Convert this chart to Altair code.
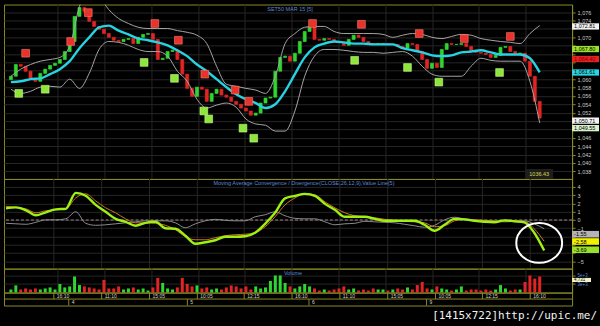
import altair as alt
import pandas as pd

# ---------------- data ----------------
close = [1060.7, 1063.5, 1063.1, 1061.9, 1060.0, 1059.5, 1061.4, 1062.4, 1063.3, 1063.8,
         1064.7, 1066.6, 1069.0, 1075.0, 1077.1, 1076.2, 1073.8, 1072.6, 1071.9, 1070.9,
         1070.0, 1069.3, 1069.0, 1069.5, 1069.7, 1068.5, 1070.0, 1070.7, 1070.9, 1069.5,
         1064.7, 1065.0, 1066.6, 1066.9, 1064.7, 1061.2, 1057.8, 1055.9, 1058.1, 1057.6,
         1054.7, 1056.6, 1057.6, 1056.2, 1055.7, 1054.7, 1054.0, 1053.1, 1052.4, 1051.4,
         1051.9, 1054.3, 1055.5, 1055.7, 1061.9, 1065.2, 1065.5, 1064.3, 1066.2, 1069.0,
         1071.4, 1072.6, 1069.5, 1069.3, 1069.7, 1069.5, 1069.0, 1068.8, 1068.1, 1069.5,
         1070.5, 1070.0, 1069.0, 1068.5, 1068.3, 1068.5, 1068.5, 1068.3, 1068.3, 1067.8,
         1067.4, 1068.5, 1068.3, 1066.6, 1064.7, 1062.6, 1063.8, 1062.8, 1067.1, 1068.5,
         1068.3, 1068.3, 1068.5, 1067.8, 1066.9, 1066.4, 1066.2, 1065.9, 1065.2, 1065.7,
         1067.6, 1067.8, 1066.6, 1066.2, 1066.2, 1064.3, 1060.7, 1054.7, 1050.71]
first_open = 1059.9

sma = [1059.3, 1059.5, 1060.0, 1060.2, 1061.2, 1062.4, 1064.3, 1067.4, 1070.0, 1072.4,
       1072.8, 1071.6, 1070.7, 1069.7, 1069.3, 1068.8, 1068.1, 1066.9, 1065.5, 1063.5,
       1061.9, 1060.0, 1058.1, 1056.4, 1055.2, 1054.3, 1053.1, 1054.0, 1057.1, 1061.2,
       1065.2, 1067.6, 1068.5, 1069.0, 1068.8, 1068.5, 1068.5, 1068.3, 1068.3, 1068.3,
       1067.4, 1066.9, 1066.4, 1065.7, 1065.5, 1065.7, 1066.4, 1066.6, 1066.9, 1066.4,
       1065.9, 1065.9, 1065.9, 1065.0, 1061.61]
bb_upper = [1060.7, 1062.4, 1063.5, 1064.3, 1064.7, 1065.2, 1067.8, 1077.4, 1081.4, 1079.7,
            1076.6, 1074.5, 1073.3, 1072.4, 1072.1, 1072.1, 1072.1, 1071.6, 1071.2, 1070.5,
            1068.5, 1063.1, 1058.8, 1058.3, 1057.8, 1057.4, 1056.6, 1060.7, 1068.5, 1070.9,
            1072.4, 1072.6, 1072.6, 1071.4, 1070.9, 1070.9, 1070.9, 1070.9, 1070.7, 1070.0,
            1070.5, 1070.9, 1070.7, 1070.0, 1069.7, 1070.2, 1070.7, 1070.5, 1069.7, 1069.3,
            1069.0, 1068.8, 1068.5, 1070.9, 1072.81]
bb_lower = [1057.6, 1056.6, 1057.1, 1058.1, 1058.3, 1058.1, 1060.0, 1057.8, 1061.4, 1067.1,
            1069.0, 1068.8, 1068.1, 1067.1, 1066.6, 1066.6, 1065.5, 1061.9, 1059.5, 1055.2,
            1053.1, 1053.8, 1054.3, 1053.3, 1050.5, 1049.3, 1049.0, 1047.6, 1047.6, 1052.4,
            1060.7, 1065.5, 1067.1, 1067.1, 1066.9, 1066.6, 1066.4, 1066.4, 1066.2, 1066.4,
            1066.6, 1065.5, 1063.1, 1061.2, 1060.7, 1060.7, 1060.7, 1063.1, 1065.0, 1064.5,
            1064.3, 1064.3, 1064.3, 1059.5, 1049.55]

macd_line = [1.41, 1.53, 1.17, 0.57, 0.93, 1.29, 1.35, 3.28, 2.92, 1.83,
             0.99, 0.14, -0.22, -0.70, -0.34, -0.22, -1.00, -1.06, -1.90, -2.87,
             -2.69, -2.45, -2.02, -2.02, -1.96, -1.54, -0.46, 0.87, 2.61, 2.92,
             3.16, 2.92, 1.95, 1.23, 0.39, 0.39, 0.39, 0.14, -0.10, -0.10,
             -0.10, -0.10, -0.58, -1.30, -0.58, 0.14, 0.08, -0.10, -0.22, -0.28,
             -0.04, -0.16, -0.28, -1.54, -3.69]
signal_line = [1.65, 1.53, 1.35, 0.87, 1.11, 1.23, 1.35, 2.67, 3.16, 2.31,
               1.47, 0.87, 0.14, -0.34, -0.34, -0.40, -0.64, -1.18, -2.02, -2.39,
               -2.39, -2.14, -1.90, -1.78, -1.72, -1.54, -0.82, 0.39, 1.83, 2.67,
               3.16, 3.04, 2.19, 1.47, 0.87, 0.51, 0.39, 0.27, 0.08, -0.04,
               -0.16, -0.22, -0.34, -0.82, -0.70, -0.10, 0.08, 0.02, -0.04, -0.10,
               -0.10, -0.10, -0.16, -1.06, -2.58]
hist_line = [-0.40, -0.46, -0.52, -0.28, 0.02, 0.02, 0.14, 0.99, -0.40, -0.64,
             -0.58, -0.46, -0.34, -0.22, -0.10, -0.10, -0.10, -0.34, -0.94, -0.46,
             -0.10, 0.08, -0.04, -0.10, -0.10, 0.39, 0.63, 0.99, 0.51, 0.20,
             0.14, 0.14, -0.22, -0.58, -0.46, -0.40, -0.16, -0.22, -0.28, -0.34,
             -0.52, -0.70, -0.88, -0.64, 0.02, 0.33, 0.14, 0.02, -0.10, -0.16,
             -0.22, -0.16, -0.10, -0.46, -1.06]

volume = [900, 2100, 900, 1200, 900, 1200, 900, 1200, 1500, 900,
          2500, 1500, 1800, 4700, 2200, 1800, 1500, 1200, 900, 3700,
          1200, 1200, 1800, 900, 1200, 1500, 900, 1200, 600, 1500,
          4300, 2800, 1200, 900, 1500, 4300, 2500, 1800, 2100, 1200,
          1500, 900, 1200, 900, 1500, 2100, 1800, 1200, 1800, 900,
          1800, 1200, 1500, 3400, 5000, 5000, 2800, 1800, 1200, 1800,
          2500, 1800, 1200, 600, 900, 600, 900, 1200, 1800, 900,
          1200, 600, 900, 600, 1200, 900, 900, 600, 900, 1200,
          900, 1500, 900, 2200, 3100, 1200, 900, 1800, 1200, 900,
          600, 900, 1800, 600, 900, 900, 600, 900, 600, 900,
          2200, 1200, 600, 900, 900, 3100, 5000, 4100, 4700]

sell_i = [3, 12.2, 15.8, 29.4, 34.2, 39.6, 45.8, 48.6, 61.6, 71.6, 83.4, 92.6, 102]
sell_p = [1066.2, 1069.0, 1075.9, 1073.3, 1069.3, 1061.2, 1057.4, 1054.7, 1073.3, 1073.1, 1070.9, 1069.7, 1070.2]
buy_i = [1.6, 7, 27.2, 33.4, 39.4, 40.4, 47.4, 49.6, 70.2, 81, 87.4, 99.8]
buy_p = [1056.6, 1057.6, 1064.0, 1060.2, 1052.4, 1050.5, 1048.3, 1045.9, 1064.5, 1062.8, 1059.3, 1061.6]

grid_i = [9.6, 19.2, 28.8, 38.4, 47.8, 57.4, 67.0, 76.6, 86.2, 95.6, 105.2]
time_labels = ["16:10", "11:10", "15:05", "10:05", "12:15", "16:10",
               "11:10", "15:05", "10:05", "12:15", "16:10"]
day_i = [12.6, 36.4, 60.8, 84.4]
day_labels = ["4", "5", "6", "9"]

price_ticks = list(range(1038, 1077, 2))
price_hidden = [1072, 1068, 1066, 1064, 1062, 1050, 1048]
macd_ticks = list(range(-5, 5))
macd_hidden = [-2, -3, -4]
vol_ticks = [2500, 5000]

# last-value tags on the right axis: shown value and where the tag sits
price_tags = [1072.81, 1067.80, 1064.40, 1061.61, 1050.71, 1049.55]
price_tag_at = [1072.6, 1067.2, 1064.8, 1061.6, 1050.1, 1048.3]
price_tag_bg = ["#f2f2f2", "#9be02c", "#e52222", "#2bd4e0", "#f2f2f2", "#d9f2cc"]
price_tag_fg = ["#000000", "#000000", "#7a0000", "#000000", "#000000", "#000000"]
macd_tags = [-1.55, -2.58, -3.69]
macd_tag_at = [-1.72, -2.6, -3.6]
macd_tag_bg = ["#b4b4b4", "#f0f000", "#9be02c"]
vol_tags = [4731]
vol_tag_at = [3700]
vol_tag_bg = ["#f2f2c8"]

circle_i = [107]
circle_v = [-2.77]

title_price = "SET50 MAR 15   [5]"
title_macd = "Moving Average Convergence / Divergence(CLOSE,26,12,9),Value Line(5)"
title_vol = "Volume"
low_note = "1036.43"
watermark = "[1415x722]http://upic.me/"

# ---------------- tables ----------------
n = len(close)
cdf = pd.DataFrame({"i": list(range(n)), "open": [first_open] + close[:-1],
                    "close": close, "volume": volume})
cdf["dir"] = ["up" if c >= o else "down" for o, c in zip(cdf["open"], cdf["close"])]

li = list(range(0, n, 2))
ldf = pd.DataFrame({"i": li, "sma": sma, "upper": bb_upper, "lower": bb_lower,
                    "macd": macd_line, "signal": signal_line, "hist": hist_line})

FONT = "Liberation Sans"
BORDER = "#8a8a26"
GRID = "#262626"
BLUE = "#5b88d6"
W = 570

XS = alt.Scale(domain=[-0.4, 113.6], nice=False, zero=False)
PY = alt.Scale(domain=[1036.17, 1077.83], nice=False, zero=False)
MY = alt.Scale(domain=[-5.88, 4.96], nice=False, zero=False)
VY = alt.Scale(domain=[0, 7000], nice=False, zero=False)
SY = alt.Scale(domain=[0, 2], nice=False, zero=False)
dir_scale = alt.Scale(domain=["up", "down"], range=["#2fd62f", "#e22424"])


def xq(field):
    return alt.X(field, type="quantitative", scale=XS, axis=None)


def right_axis(values, fmt, hidden, color="#c8c8c8", size=5.5):
    expr = "indexof(%s, datum.value) >= 0 ? '' : datum.label" % str(hidden)
    return alt.Axis(orient="right", values=values, format=fmt, labelColor=color,
                    labelFont=FONT, labelFontSize=size, labelPadding=2,
                    tickColor=BORDER, tickSize=3, domainColor=BORDER,
                    grid=True, gridColor=GRID, gridWidth=1, title=None,
                    labelOverlap=False, labelExpr=expr)


PAX = right_axis(price_ticks, ",", price_hidden)
MAX = right_axis(macd_ticks, "d", macd_hidden)
VAX = right_axis(vol_ticks, ",", [], BLUE, 4.5)


def py(field):
    return alt.Y(field, type="quantitative", scale=PY, axis=PAX)


def my(field):
    return alt.Y(field, type="quantitative", scale=MY, axis=MAX)


def vy(field):
    return alt.Y(field, type="quantitative", scale=VY, axis=VAX)


gdf = pd.DataFrame({"g": grid_i})
vgrid = alt.Chart(gdf).mark_rule(color=GRID, strokeWidth=1).encode(x=xq("g"))

# ---------------- price panel ----------------
candles = alt.Chart(cdf).mark_bar(width=3, strokeWidth=0.7).encode(
    x=xq("i"), y=py("open"), y2="close:Q",
    color=alt.Color("dir:N", scale=dir_scale, legend=None),
    stroke=alt.Stroke("dir:N", scale=dir_scale, legend=None),
)


def pline(field, color, width):
    return alt.Chart(ldf).mark_line(color=color, strokeWidth=width, clip=True,
                                    interpolate="monotone").encode(x=xq("i"), y=py(field))


sdf = pd.DataFrame({"i": sell_i, "p": sell_p})
bdf = pd.DataFrame({"i": buy_i, "p": buy_p})
sells = alt.Chart(sdf).mark_square(size=60, color="#e8332c", opacity=1,
                                   stroke="#ff7a6e", strokeWidth=0.6).encode(x=xq("i"), y=py("p"))
buys = alt.Chart(bdf).mark_square(size=60, color="#8fe63a", opacity=1,
                                  stroke="#c8ff90", strokeWidth=0.6).encode(x=xq("i"), y=py("p"))

ptitle = alt.Chart(pd.DataFrame({"t": [title_price]})).mark_text(
    font=FONT, fontSize=5.5, color=BLUE, align="center", baseline="middle").encode(
    x=alt.value(287), y=alt.value(4), text="t:N")
lownote_bg = alt.Chart(pd.DataFrame({"t": [low_note]})).mark_rect(color="#1e1e1e").encode(
    x=alt.value(523), x2=alt.value(551), y=alt.value(165), y2=alt.value(175))
lownote = alt.Chart(pd.DataFrame({"t": [low_note]})).mark_text(
    font=FONT, fontSize=5.5, color="#d6d64a", align="center", baseline="middle").encode(
    x=alt.value(537), y=alt.value(170), text="t:N")

ptdf = pd.DataFrame({"v": price_tags, "at": price_tag_at, "bg": price_tag_bg, "fg": price_tag_fg})
ptdf["lo"] = ptdf["at"] - 0.75
ptdf["hi"] = ptdf["at"] + 0.75
ptdf["label"] = [f"{v:,.2f}" for v in price_tags]
ptag_box = alt.Chart(ptdf).mark_bar().encode(
    x=alt.value(570), x2=alt.value(597), y=py("lo"), y2="hi:Q",
    color=alt.Color("bg:N", scale=None))
ptag_txt = alt.Chart(ptdf).mark_text(font=FONT, fontSize=5.5, align="left",
                                     baseline="middle").encode(
    x=alt.value(572), y=py("at"), text="label:N", color=alt.Color("fg:N", scale=None))

price = alt.layer(
    vgrid, candles, pline("upper", "#a6a6a6", 1), pline("lower", "#a6a6a6", 1),
    pline("sma", "#27d3e2", 2.4), sells, buys, ptitle, lownote_bg, lownote,
    ptag_box, ptag_txt,
).properties(width=W, height=175)

# ---------------- MACD panel ----------------
zero = alt.Chart(pd.DataFrame({"z": [0]})).mark_rule(
    color="#a08484", strokeWidth=1, strokeDash=[3, 2]).encode(y=my("z"))


def mline(field, color, width):
    return alt.Chart(ldf).mark_line(color=color, strokeWidth=width, clip=True,
                                    interpolate="monotone").encode(x=xq("i"), y=my(field))


mtitle = alt.Chart(pd.DataFrame({"t": [title_macd]})).mark_text(
    font=FONT, fontSize=5.5, color=BLUE, align="center", baseline="middle").encode(
    x=alt.value(301), y=alt.value(4), text="t:N")

ell = "M-1.15,0A1.15,1,0,1,1,1.15,0A1.15,1,0,1,1,-1.15,0Z"
circ = alt.Chart(pd.DataFrame({"i": circle_i, "v": circle_v})).mark_point(
    shape=ell, size=1600, filled=False, color="white", strokeWidth=2, opacity=1).encode(
    x=xq("i"), y=my("v"))

mtdf = pd.DataFrame({"v": macd_tags, "at": macd_tag_at, "bg": macd_tag_bg})
mtdf["lo"] = mtdf["at"] - 0.4
mtdf["hi"] = mtdf["at"] + 0.4
mtdf["label"] = [f"{v:.2f}" for v in macd_tags]
mtag_box = alt.Chart(mtdf).mark_bar().encode(
    x=alt.value(570), x2=alt.value(597), y=my("lo"), y2="hi:Q",
    color=alt.Color("bg:N", scale=None))
mtag_txt = alt.Chart(mtdf).mark_text(font=FONT, fontSize=5.5, align="left",
                                     baseline="middle", color="#000000").encode(
    x=alt.value(572), y=my("at"), text="label:N")

macd = alt.layer(
    vgrid, zero, mline("hist", "#8c8c8c", 1), mline("signal", "#c87a20", 1),
    mline("macd", "#9ff012", 2.4), mtitle, circ, mtag_box, mtag_txt,
).properties(width=W, height=90)

# ---------------- volume panel ----------------
vbars = alt.Chart(cdf).mark_bar(width=3).encode(
    x=xq("i"), y=vy("volume"),
    color=alt.Color("dir:N", scale=dir_scale, legend=None))
vtitle = alt.Chart(pd.DataFrame({"t": [title_vol]})).mark_text(
    font=FONT, fontSize=5.5, color=BLUE, align="center", baseline="middle").encode(
    x=alt.value(290), y=alt.value(4), text="t:N")
vtdf = pd.DataFrame({"v": vol_tags, "at": vol_tag_at, "bg": vol_tag_bg})
vtdf["lo"] = vtdf["at"] - 600
vtdf["hi"] = vtdf["at"] + 600
vtdf["label"] = [f"{v:,}" for v in vol_tags]
vtag_box = alt.Chart(vtdf).mark_bar().encode(
    x=alt.value(570), x2=alt.value(589), y=vy("lo"), y2="hi:Q",
    color=alt.Color("bg:N", scale=None))
vtag_txt = alt.Chart(vtdf).mark_text(font=FONT, fontSize=4.5, align="left",
                                     baseline="middle", color="#000000").encode(
    x=alt.value(572), y=vy("at"), text="label:N")

vol = alt.layer(vgrid, vbars, vtitle, vtag_box, vtag_txt).properties(width=W, height=24)

# ---------------- time strip ----------------
tdf = pd.DataFrame({"g": grid_i, "label": time_labels, "y0": 1, "y1": 2, "ym": 1.5})
ddf = pd.DataFrame({"g": day_i, "label": day_labels, "y0": 0, "y1": 1, "ym": 0.5})
mid = alt.Chart(pd.DataFrame({"y": [1]})).mark_rule(color=BORDER).encode(
    y=alt.Y("y:Q", scale=SY, axis=None))


def strip_layers(df):
    div = alt.Chart(df).mark_rule(color=BORDER).encode(
        x=xq("g"), y=alt.Y("y0:Q", scale=SY, axis=None), y2="y1:Q")
    txt = alt.Chart(df).mark_text(font=FONT, fontSize=5, color="#d0d0d0",
                                  align="left", baseline="middle", dx=3).encode(
        x=xq("g"), y=alt.Y("ym:Q", scale=SY, axis=None), text="label:N")
    return [div, txt]


strip = alt.layer(mid, *strip_layers(tdf), *strip_layers(ddf)).properties(width=W, height=13)

wm = alt.Chart(pd.DataFrame({"t": [watermark]})).mark_text(
    font="DejaVu Sans Mono", fontSize=11, color="#f4f4f4", align="right",
    baseline="middle").encode(x=alt.value(595), y=alt.value(11), text="t:N").properties(
    width=W, height=21, view=alt.ViewBackground(stroke="black", strokeOpacity=0))

chart = alt.vconcat(price, macd, vol, strip, wm, spacing=0, bounds="flush").properties(
    background="black",
    padding={"left": 3, "top": 3, "right": 0, "bottom": 0},
).configure_view(stroke=BORDER, strokeWidth=1)

chart.save("out.html", embed_options={"renderer": "svg", "actions": False})
